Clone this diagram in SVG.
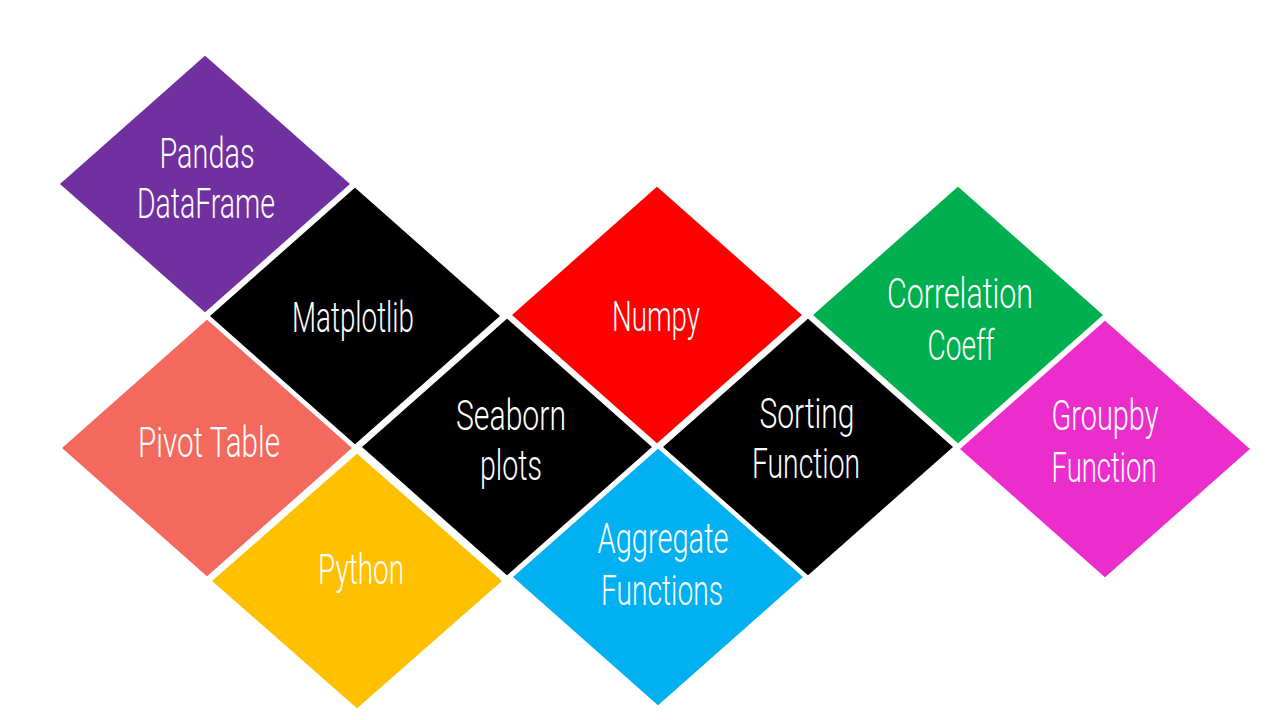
<svg xmlns="http://www.w3.org/2000/svg" width="1280" height="720" viewBox="0 0 1280 720">
  <defs>
    <style>
      .tile { stroke: #ffffff; stroke-width: 4; stroke-linejoin: miter; }
      .lbl { font-family: Roboto, "Liberation Sans", sans-serif; font-weight: 300; font-size: 43px; fill: #ffffff; text-anchor: middle; }
    </style>
  </defs>
  <rect width="1280" height="720" fill="#ffffff"/>

  <g id="pandas">
    <polygon class="tile" fill="#7030A0" points="205,53 353,184 205,315 57,184"/>
    <text class="lbl" x="207" y="168" textLength="95" lengthAdjust="spacingAndGlyphs">Pandas</text>
    <text class="lbl" x="206" y="218" textLength="138" lengthAdjust="spacingAndGlyphs">DataFrame</text>
  </g>

  <g id="matplotlib">
    <polygon class="tile" fill="#000000" points="355,185 503,316 355,447 207,316"/>
    <text class="lbl" x="353" y="332" textLength="122" lengthAdjust="spacingAndGlyphs">Matplotlib</text>
  </g>

  <g id="pivot-table">
    <polygon class="tile" fill="#F4695D" points="207,317 355,448 207,579 59,448"/>
    <text class="lbl" x="209" y="457" textLength="142" lengthAdjust="spacingAndGlyphs">Pivot Table</text>
  </g>

  <g id="seaborn">
    <polygon class="tile" fill="#000000" points="507,316 655,447 507,578 359,447"/>
    <text class="lbl" x="511" y="430" textLength="110" lengthAdjust="spacingAndGlyphs">Seaborn</text>
    <text class="lbl" x="511" y="480" textLength="62" lengthAdjust="spacingAndGlyphs">plots</text>
  </g>

  <g id="python">
    <polygon class="tile" fill="#FFC000" points="357,451 505,581 357,711 209,581"/>
    <text class="lbl" x="361" y="584" textLength="86" lengthAdjust="spacingAndGlyphs">Python</text>
  </g>

  <g id="numpy">
    <polygon class="tile" fill="#FF0000" points="657,184 805,315 657,446 509,315"/>
    <text class="lbl" x="656" y="331" textLength="88" lengthAdjust="spacingAndGlyphs">Numpy</text>
  </g>

  <g id="aggregate">
    <polygon class="tile" fill="#00B0F0" points="658,446 806,577 658,708 510,577"/>
    <text class="lbl" x="663" y="553" textLength="131" lengthAdjust="spacingAndGlyphs">Aggregate</text>
    <text class="lbl" x="662" y="605" textLength="122" lengthAdjust="spacingAndGlyphs">Functions</text>
  </g>

  <g id="sorting">
    <polygon class="tile" fill="#000000" points="808,316 956,447 808,578 660,447"/>
    <text class="lbl" x="807" y="428" textLength="95" lengthAdjust="spacingAndGlyphs">Sorting</text>
    <text class="lbl" x="806" y="478" textLength="108" lengthAdjust="spacingAndGlyphs">Function</text>
  </g>

  <g id="correlation">
    <polygon class="tile" fill="#00B050" points="958,184 1106,315 958,446 810,315"/>
    <text class="lbl" x="960" y="308" textLength="146" lengthAdjust="spacingAndGlyphs">Correlation</text>
    <text class="lbl" x="961" y="360" textLength="67" lengthAdjust="spacingAndGlyphs">Coeff</text>
  </g>

  <g id="groupby">
    <polygon class="tile" fill="#EB2ECB" points="1105,318 1253,449 1105,580 957,449"/>
    <text class="lbl" x="1105" y="430" textLength="107" lengthAdjust="spacingAndGlyphs">Groupby</text>
    <text class="lbl" x="1104" y="482" textLength="105" lengthAdjust="spacingAndGlyphs">Function</text>
  </g>

  <g id="connectors"></g>
</svg>
